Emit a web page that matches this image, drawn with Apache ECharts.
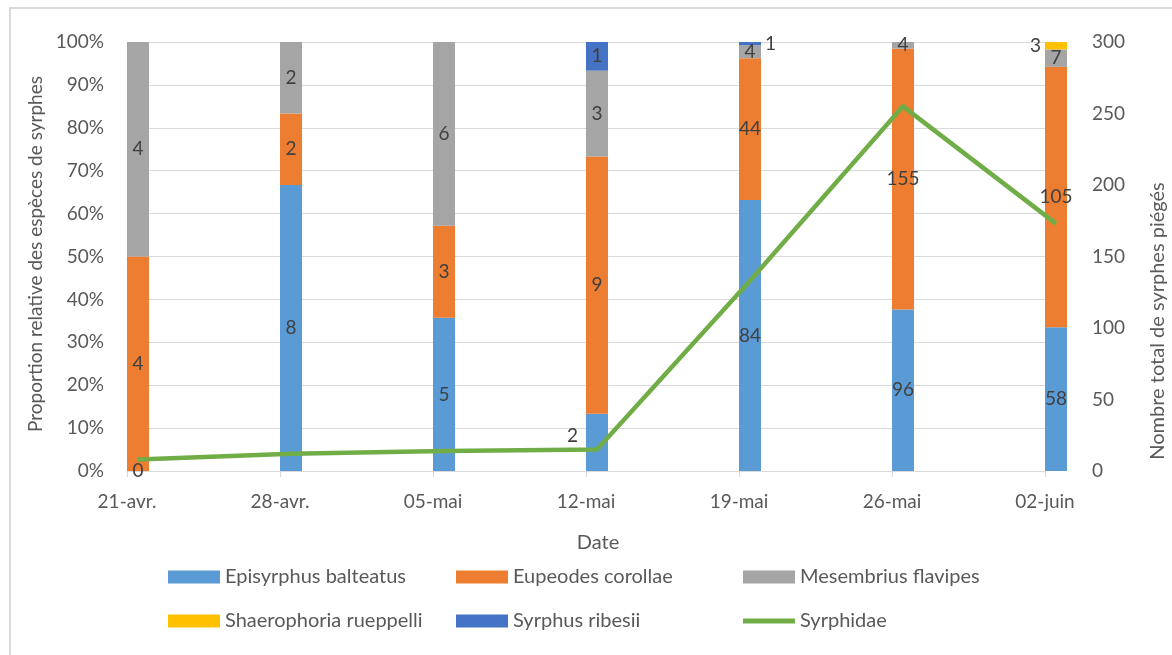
<!DOCTYPE html>
<html>
<head>
<meta charset="utf-8">
<script src="https://cdn.jsdelivr.net/npm/echarts@6/dist/echarts.min.js"></script>
<style>
  html, body { margin: 0; padding: 0; background: #fff; overflow: hidden; }
  #frame { position: absolute; left: 9px; top: 7px; width: 1250px; height: 720px; border: 2px solid #d9d9d9; box-sizing: border-box; }
  #chart { position: absolute; left: 0; top: 0; width: 1172px; height: 655px; }
</style>
</head>
<body>
<div id="frame"></div>
<div id="chart"></div>
<script>
// ---- Data ----
const dates = ['21-avr.', '28-avr.', '05-mai', '12-mai', '19-mai', '26-mai', '02-juin'];
const episyrphusBalteatus   = [0, 8, 5, 2, 84, 96, 58];
const eupeodesCorollae      = [4, 2, 3, 9, 44, 155, 105];
const mesembriusFlavipes    = [4, 2, 6, 3, 4, 4, 7];
const shaerophoriaRueppelli = [null, null, null, null, null, null, 3];
const syrphusRibesii        = [null, null, null, 1, 1, null, null];
const syrphidaeTotals       = [8, 12, 14, 15, 133, 255, 173];
const percentTicks = [0, 100, 10];   // min, max, interval
const countTicks   = [0, 300, 50];

// ---- Build series ----
const speciesList = [
  { name: 'Episyrphus balteatus',   counts: episyrphusBalteatus,   color: '#5B9BD5' },
  { name: 'Eupeodes corollae',      counts: eupeodesCorollae,      color: '#ED7D31' },
  { name: 'Mesembrius flavipes',    counts: mesembriusFlavipes,    color: '#A5A5A5' },
  { name: 'Shaerophoria rueppelli', counts: shaerophoriaRueppelli, color: '#FFC000' },
  { name: 'Syrphus ribesii',        counts: syrphusRibesii,        color: '#4472C4' }
];
const dateSums = dates.map((d, i) =>
  speciesList.reduce((s, sp) => s + (sp.counts[i] || 0), 0));

const FONT = 'Lato';
const labelSpecial = {
  'Episyrphus balteatus|3': { position: 'left', distance: 8, offset: [0, -7] },
  'Syrphus ribesii|4': { position: 'right', distance: 4 },
  'Shaerophoria rueppelli|6': { position: 'left', distance: 4 }
};

const barSeries = speciesList.map(sp => ({
  name: sp.name,
  type: 'bar',
  stack: 'species',
  xAxisIndex: 0,
  yAxisIndex: 0,
  barWidth: 22,
  barGap: '0%',
  clip: false,
  itemStyle: { color: sp.color },
  label: {
    show: true,
    position: 'inside',
    color: '#404040',
    fontFamily: FONT,
    fontSize: 19,
    formatter: p => (sp.counts[p.dataIndex] == null ? '' : String(sp.counts[p.dataIndex]))
  },
  data: sp.counts.map((c, i) => {
    if (c == null) return null;
    const item = { value: c / dateSums[i] * 100 };
    const sp2 = labelSpecial[sp.name + '|' + i];
    if (sp2) item.label = sp2;
    return item;
  })
}));

// invisible spacer stack so the real bars sit just right of each tick (as in the reference)
const spacer = {
  name: '_spacer', type: 'bar', stack: 'spacer', xAxisIndex: 0, yAxisIndex: 0,
  barWidth: 22, barGap: '0%', silent: true,
  data: dates.map(() => null)
};

const lineSeries = {
  name: 'Syrphidae',
  type: 'line',
  xAxisIndex: 1,
  yAxisIndex: 1,
  symbol: 'none',
  lineStyle: { color: '#70AD47', width: 4.5, join: 'round' },
  itemStyle: { color: '#70AD47' },
  data: syrphidaeTotals
};

const legendText = { color: '#595959', fontFamily: FONT, fontSize: 20 };
const legendBase = {
  orient: 'vertical', itemWidth: 52, itemHeight: 13, itemGap: 24,
  icon: 'rect', textStyle: legendText, selectedMode: false, padding: 0
};

const option = {
  animation: false,
  backgroundColor: 'transparent',
  grid: [
    { left: 127, right: 127, top: 42, bottom: 184 },
    { left: 138, right: 116, top: 42, bottom: 184 }
  ],
  xAxis: [
    {
      type: 'category', gridIndex: 0, data: dates, boundaryGap: false,
      axisLine: { show: true, lineStyle: { color: '#D9D9D9', width: 1 } },
      axisTick: { show: true, length: 6, lineStyle: { color: '#D9D9D9' } },
      axisLabel: { margin: 21, color: '#595959', fontFamily: FONT, fontSize: 19 }
    },
    {
      type: 'category', gridIndex: 1, data: dates, boundaryGap: false, show: false
    }
  ],
  yAxis: [
    {
      type: 'value', gridIndex: 0, min: percentTicks[0], max: percentTicks[1], interval: percentTicks[2],
      axisLine: { show: false }, axisTick: { show: false },
      splitLine: { lineStyle: { color: '#D9D9D9', width: 1 } },
      axisLabel: { margin: 23, color: '#595959', fontFamily: FONT, fontSize: 19, formatter: '{value}%' }
    },
    {
      type: 'value', gridIndex: 1, position: 'right', min: countTicks[0], max: countTicks[1], interval: countTicks[2],
      axisLine: { show: false }, axisTick: { show: false }, splitLine: { show: false },
      axisLabel: { margin: 36, color: '#595959', fontFamily: FONT, fontSize: 19 }
    }
  ],
  legend: [
    Object.assign({}, legendBase, { left: 168, top: 567, data: ['Episyrphus balteatus', 'Shaerophoria rueppelli'] }),
    Object.assign({}, legendBase, { left: 456, top: 567, data: ['Eupeodes corollae', 'Syrphus ribesii'] }),
    Object.assign({}, legendBase, { left: 743, top: 567, data: ['Mesembrius flavipes', { name: 'Syrphidae', icon: 'path://M0,0 L52,0 L52,5 L0,5 Z', itemStyle: { color: '#70AD47' } }] })
  ],
  graphic: [
    { type: 'text', x: 36, y: 254, rotation: Math.PI / 2,
      style: { text: 'Proportion relative des espèces de syrphes', fill: '#595959', font: '19px ' + FONT, align: 'center', verticalAlign: 'middle' } },
    { type: 'text', x: 598, y: 543,
      style: { text: 'Date', fill: '#595959', font: '20px ' + FONT, align: 'center', verticalAlign: 'middle' } },
    { type: 'text', x: 1158, y: 321, rotation: Math.PI / 2,
      style: { text: 'Nombre total de syrphes piégés', fill: '#595959', font: '20px ' + FONT, align: 'center', verticalAlign: 'middle' } }
  ],
  series: [spacer].concat(barSeries, [lineSeries])
};

const chart = echarts.init(document.getElementById('chart'), null, { renderer: 'canvas' });
chart.setOption(option);
</script>
</body>
</html>
